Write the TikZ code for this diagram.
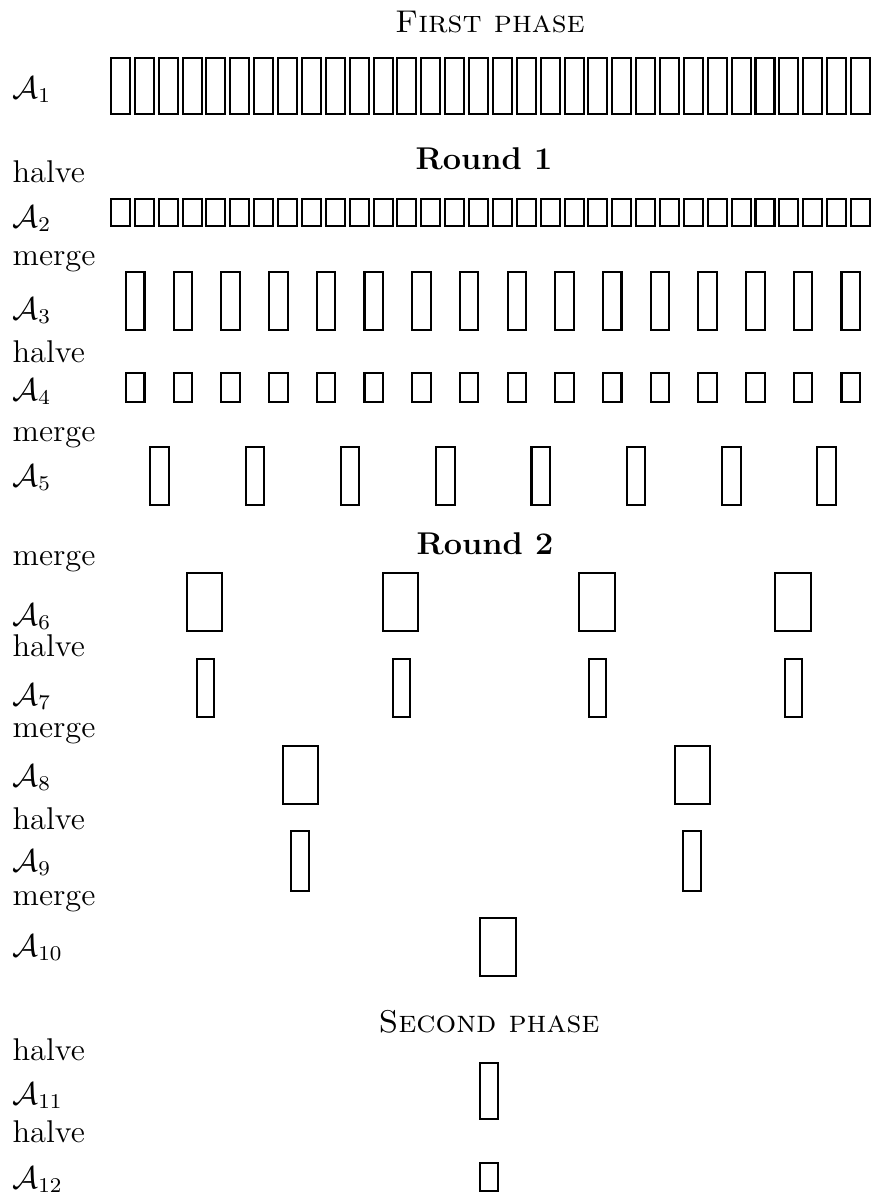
\documentclass[tikz,border=0pt]{standalone}
\usepackage{amsmath}
\newcommand{\sqz}[1]{\scalebox{1}[0.97]{#1}}
\begin{document}
\begin{tikzpicture}[x=0.37pt,y=-0.37pt,
  bx/.style={draw, line width=0.75pt, inner sep=0pt, outer sep=0pt, anchor=north west},
  lbl/.style={anchor=base west, inner sep=0pt, font=\fontsize{12}{14}\selectfont},
  ttl/.style={anchor=base, inner sep=0pt, font=\fontsize{12}{14}\selectfont}]
\useasboundingbox (0,0) rectangle (872,1197);
% titles
\node[ttl] (t1) at (490,32) {\sqz{\textsc{First phase}}};
\node[ttl] (r1) at (484,169) {\sqz{\textbf{Round 1}}};
\node[ttl] (r2) at (485,554) {\sqz{\textbf{Round 2}}};
\node[ttl] (t2) at (489,1032) {\sqz{\textsc{Second phase}}};
% left labels
\node[lbl] (l1) at (12,98) {\sqz{$\mathcal{A}_1$}};
\node[lbl] (o1) at (12,182) {\sqz{halve}};
\node[lbl] (l2) at (12,227) {\sqz{$\mathcal{A}_2$}};
\node[lbl] (o2) at (12,265) {\sqz{merge}};
\node[lbl] (l3) at (12,319) {\sqz{$\mathcal{A}_3$}};
\node[lbl] (o3) at (12,362) {\sqz{halve}};
\node[lbl] (l4) at (12,400) {\sqz{$\mathcal{A}_4$}};
\node[lbl] (o4) at (12,441) {\sqz{merge}};
\node[lbl] (l5) at (12,486) {\sqz{$\mathcal{A}_5$}};
\node[lbl] (o5) at (12,565) {\sqz{merge}};
\node[lbl] (l6) at (12,625) {\sqz{$\mathcal{A}_6$}};
\node[lbl] (o6) at (12,656) {\sqz{halve}};
\node[lbl] (l7) at (12,705) {\sqz{$\mathcal{A}_7$}};
\node[lbl] (o7) at (12,737) {\sqz{merge}};
\node[lbl] (l8) at (12,786) {\sqz{$\mathcal{A}_8$}};
\node[lbl] (o8) at (12,829) {\sqz{halve}};
\node[lbl] (l9) at (12,871) {\sqz{$\mathcal{A}_9$}};
\node[lbl] (o9) at (12,905) {\sqz{merge}};
\node[lbl] (l10) at (12,956) {\sqz{$\mathcal{A}_{10}$}};
\node[lbl] (o10) at (12,1060) {\sqz{halve}};
\node[lbl] (l11) at (12,1104) {\sqz{$\mathcal{A}_{11}$}};
\node[lbl] (o11) at (12,1142) {\sqz{halve}};
\node[lbl] (l12) at (12,1188) {\sqz{$\mathcal{A}_{12}$}};
% A1, A2: 32 boxes
\foreach \k in {0,...,31}{
  \node[bx, minimum width=19*0.37pt, minimum height=56*0.37pt] (a1-\k) at ({111+23.87*\k},58) {};
  \node[bx, minimum width=19*0.37pt, minimum height=27*0.37pt] (a2-\k) at ({111+23.87*\k},199) {};
}
% A3, A4: 16 boxes
\foreach \k in {0,...,15}{
  \node[bx, minimum width=18.5*0.37pt, minimum height=58*0.37pt] (a3-\k) at ({126+47.7*\k},272) {};
  \node[bx, minimum width=18.5*0.37pt, minimum height=29*0.37pt] (a4-\k) at ({126+47.7*\k},373) {};
}
% A5: 8 boxes
\foreach \k in {0,...,7}{
  \node[bx, minimum width=18.5*0.37pt, minimum height=58*0.37pt] (a5-\k) at ({150.3+95.3*\k},447) {};
}
% A6, A7: 4 boxes
\foreach \k in {0,...,3}{
  \node[bx, minimum width=35.5*0.37pt, minimum height=58*0.37pt] (a6-\k) at ({186.7+196.2*\k},573) {};
  \node[bx, minimum width=17*0.37pt, minimum height=58*0.37pt] (a7-\k) at ({196.8+196.2*\k},659) {};
}
% A8, A9: 2 boxes
\foreach \k in {0,1}{
  \node[bx, minimum width=35*0.37pt, minimum height=58*0.37pt] (a8-\k) at ({283+392*\k},746) {};
  \node[bx, minimum width=18*0.37pt, minimum height=60*0.37pt] (a9-\k) at ({291+392*\k},831) {};
}
% A10 - A12
\node[bx, minimum width=36*0.37pt, minimum height=58*0.37pt] (a10) at (480,918) {};
\node[bx, minimum width=18*0.37pt, minimum height=56*0.37pt] (a11) at (480,1063) {};
\node[bx, minimum width=18*0.37pt, minimum height=28*0.37pt] (a12) at (480,1163) {};
\end{tikzpicture}
\end{document}
